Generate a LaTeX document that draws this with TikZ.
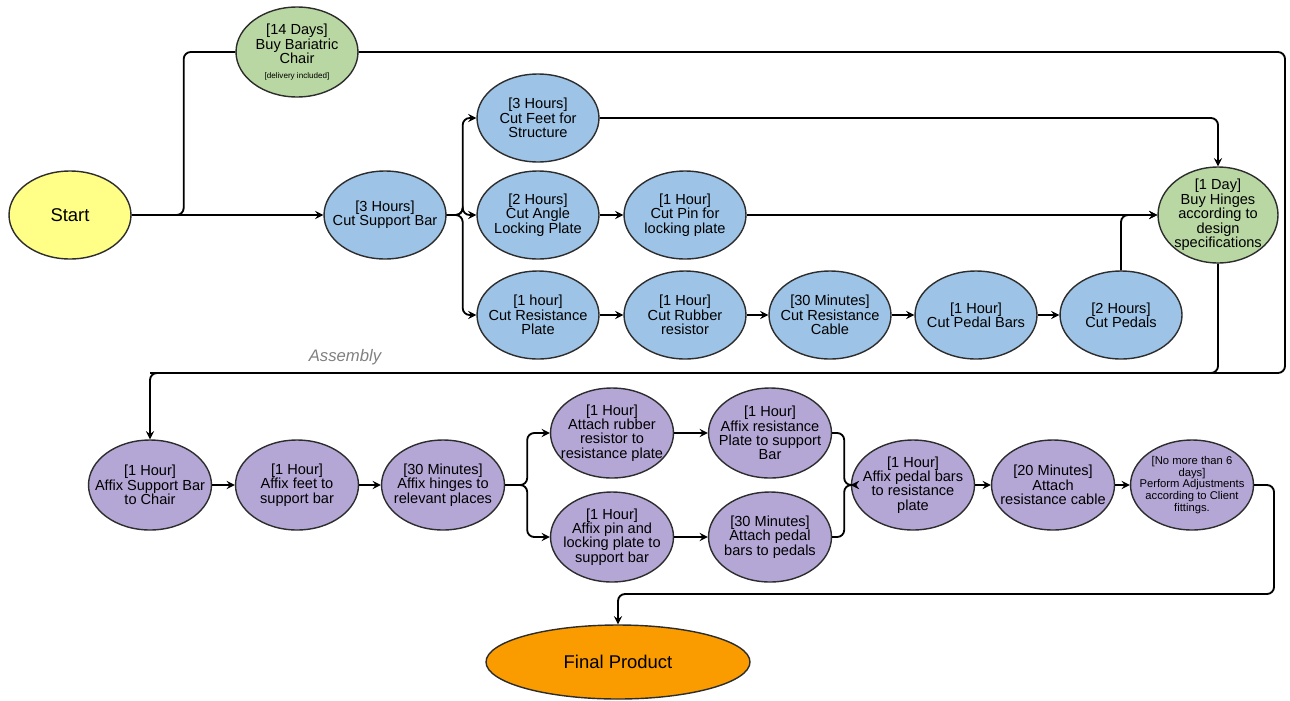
\documentclass[tikz,border=0pt]{standalone}
\usepackage{fontspec}
\setmainfont{Liberation Sans}
\usetikzlibrary{shapes.geometric}

\definecolor{startyellow}{RGB}{255,255,136}
\definecolor{buygreen}{RGB}{185,215,162}
\definecolor{cutblue}{RGB}{157,195,230}
\definecolor{fixpurple}{RGB}{180,167,214}
\definecolor{endorange}{RGB}{250,155,0}
\definecolor{rim}{RGB}{45,45,45}

\tikzset{
  task/.style={ellipse, draw=rim, line width=0.8pt, inner sep=-0.5cm,
    minimum width=2.44cm, minimum height=1.76cm, align=center,
    font=\fontsize{8.3}{8.2}\selectfont},
  cut/.style={task, fill=cutblue},
  buy/.style={task, fill=buygreen},
  fix/.style={task, fill=fixpurple, minimum width=2.46cm, minimum height=1.8cm},
  flow/.style={->, line width=1.05pt, rounded corners=4pt},
}

\begin{document}
\begin{tikzpicture}[>=stealth, x=0.02cm, y=-0.02cm]
\useasboundingbox (0,0) rectangle (1290,700);

% Buying and cutting the parts
\node [task, fill=startyellow, font=\fontsize{10.5}{12}\selectfont] (start) at (70,215) {Start};
\node [buy, minimum height=1.8cm] (chair) at (297,52) {[14 Days]\\Buy Bariatric\\Chair\\{\fontsize{4.6}{6}\selectfont [delivery included]}};
\node [cut] (bar) at (385,215) {[3 Hours]\\Cut Support Bar};
\node [cut] (feet) at (538,118) {[3 Hours]\\Cut Feet for\\Structure};
\node [cut] (angle) at (538,215) {[2 Hours]\\Cut Angle\\Locking Plate};
\node [cut] (pin) at (685,215) {[1 Hour]\\Cut Pin for\\locking plate};
\node [cut] (resplate) at (538,315) {[1 hour]\\Cut Resistance\\Plate};
\node [cut] (rubber) at (685,315) {[1 Hour]\\Cut Rubber\\resistor};
\node [cut] (cable) at (830,315) {[30 Minutes]\\Cut Resistance\\Cable};
\node [cut] (pedalbars) at (976,315) {[1 Hour]\\Cut Pedal Bars};
\node [cut] (pedals) at (1121,315) {[2 Hours]\\Cut Pedals};
\node [buy, minimum width=2.4cm, minimum height=1.92cm] (hinges) at (1218,215) {[1 Day]\\Buy Hinges\\according to\\design\\specifications};

\node [text=gray, font=\fontsize{9.5}{11}\selectfont\itshape] (assembly) at (345,357) {Assembly};

% Assembly
\node [fix] (fixbar) at (150,485) {[1 Hour]\\Affix Support Bar\\to Chair};
\node [fix] (fixfeet) at (297,485) {[1 Hour]\\Affix feet to\\support bar};
\node [fix] (fixhinges) at (443,485) {[30 Minutes]\\Affix hinges to\\relevant places};
\node [fix] (attrubber) at (612,433) {[1 Hour]\\Attach rubber\\resistor to\\resistance plate};
\node [fix] (fixplate) at (770,433) {[1 Hour]\\Affix resistance\\Plate to support\\Bar};
\node [fix] (fixpin) at (612,537) {[1 Hour]\\Affix pin and\\locking plate to\\support bar};
\node [fix] (attpedal) at (770,537) {[30 Minutes]\\Attach pedal\\bars to pedals};
\node [fix] (fixpedal) at (913,485) {[1 Hour]\\Affix pedal bars\\to resistance\\plate};
\node [fix] (attcable) at (1053,485) {[20 Minutes]\\Attach\\resistance cable};
\node [fix, font=\fontsize{6.4}{6.6}\selectfont] (adjust) at (1192,485) {[No more than 6\\days]\\Perform Adjustments\\according to Client\\fittings.};
\node [task, fill=endorange, minimum width=5.28cm, minimum height=1.48cm, font=\fontsize{10.5}{12}\selectfont] (final) at (618,662) {Final Product};

\coordinate (loop) at (1285,373);
\coordinate (turn) at (1274,594);

% Connectors of the first stage
\draw [flow] (start.east) -- (bar.west);
\draw [flow, -] (start.east) -- ++(52,0) |- (chair.west);
\foreach \to in {feet, angle, resplate}
  \draw [flow] (bar.east) -- ++(16,0) |- (\to.west);
\foreach \from/\to in {angle/pin, resplate/rubber, rubber/cable, cable/pedalbars, pedalbars/pedals}
  \draw [flow] (\from) -- (\to);
\draw [flow] (feet.east) -| (hinges.north);
\draw [flow] (pin.east) -- (hinges.west);
\draw [flow] (pedals.north) |- (hinges.west);

% Into the assembly
\draw [flow] (chair.east) -| (loop) -| (fixbar.north);
\draw [flow, -] (hinges.south) |- (loop -| fixhinges.north) -- (loop -| fixbar.north);

% Connectors of the assembly
\foreach \from/\to in {fixbar/fixfeet, fixfeet/fixhinges, attrubber/fixplate, fixpin/attpedal, fixpedal/attcable, attcable/adjust}
  \draw [flow] (\from) -- (\to);
\foreach \to in {attrubber, fixpin}
  \draw [flow] (fixhinges.east) -- ++(22,0) |- (\to.west);
\foreach \from in {fixplate, attpedal}
  \draw [flow] (\from.east) -- ++(12,0) |- (fixpedal.west);
\draw [flow] (adjust.east) -| (turn) -| (final.north);

\end{tikzpicture}
\end{document}
